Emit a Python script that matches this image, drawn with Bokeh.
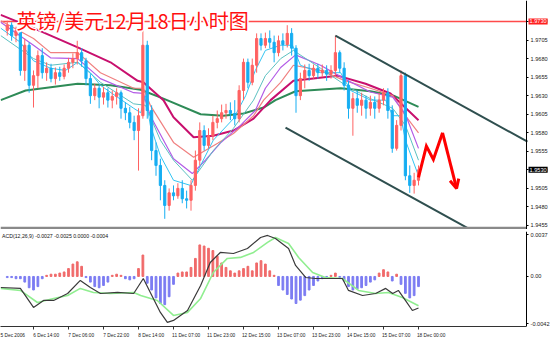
from bokeh.plotting import figure
from bokeh.layouts import column
from bokeh.models import (Range1d, FixedTicker, Label, Arrow, OpenHead, LinearAxis,
                          ColumnDataSource, NumeralTickFormatter)
from bokeh.embed import file_html
from bokeh.resources import INLINE

# ---------------- data (2-hour bars) ----------------
bar_index = list(range(95))
open_ = [1.9718, 1.9725, 1.9711, 1.9718, 1.9664, 1.9698, 1.9644, 1.9657, 1.9684, 1.9661,
         1.9667, 1.9653, 1.9661, 1.9656, 1.9667, 1.9675, 1.9680, 1.9688, 1.9677, 1.9653,
         1.9630, 1.9640, 1.9628, 1.9634, 1.9624, 1.9629, 1.9634, 1.9613, 1.9607, 1.9594,
         1.9583, 1.9603, 1.9698, 1.9610, 1.9556, 1.9536, 1.9509, 1.9482, 1.9499, 1.9495,
         1.9505, 1.9491, 1.9489, 1.9509, 1.9543, 1.9583, 1.9563, 1.9576, 1.9594, 1.9599,
         1.9607, 1.9610, 1.9606, 1.9599, 1.9637, 1.9675, 1.9648, 1.9671, 1.9707, 1.9698,
         1.9707, 1.9702, 1.9688, 1.9704, 1.9699, 1.9714, 1.9694, 1.9630, 1.9653, 1.9664,
         1.9657, 1.9667, 1.9661, 1.9664, 1.9659, 1.9664, 1.9688, 1.9667, 1.9644, 1.9613,
         1.9626, 1.9617, 1.9624, 1.9613, 1.9621, 1.9613, 1.9624, 1.9634, 1.9610, 1.9559,
         1.9590, 1.9657, 1.9522, 1.9509, 1.9516]
close = [1.9725, 1.9711, 1.9718, 1.9664, 1.9698, 1.9644, 1.9657, 1.9684, 1.9661, 1.9667,
         1.9653, 1.9661, 1.9656, 1.9667, 1.9675, 1.9680, 1.9688, 1.9677, 1.9653, 1.9630,
         1.9640, 1.9628, 1.9634, 1.9624, 1.9629, 1.9634, 1.9613, 1.9607, 1.9594, 1.9583,
         1.9603, 1.9698, 1.9610, 1.9556, 1.9536, 1.9509, 1.9482, 1.9499, 1.9495, 1.9505,
         1.9491, 1.9489, 1.9509, 1.9543, 1.9583, 1.9563, 1.9576, 1.9594, 1.9599, 1.9607,
         1.9610, 1.9606, 1.9599, 1.9637, 1.9675, 1.9648, 1.9671, 1.9707, 1.9698, 1.9707,
         1.9702, 1.9688, 1.9704, 1.9699, 1.9714, 1.9694, 1.9630, 1.9653, 1.9664, 1.9657,
         1.9667, 1.9661, 1.9664, 1.9659, 1.9664, 1.9688, 1.9667, 1.9644, 1.9613, 1.9626,
         1.9617, 1.9624, 1.9613, 1.9621, 1.9613, 1.9624, 1.9634, 1.9610, 1.9559, 1.9590,
         1.9657, 1.9522, 1.9509, 1.9516, 1.9530]
high = [1.9731, 1.9729, 1.9723, 1.9722, 1.9707, 1.9702, 1.9664, 1.9691, 1.9694, 1.9675,
        1.9673, 1.9668, 1.9669, 1.9672, 1.9681, 1.9687, 1.9704, 1.9694, 1.9681, 1.9659,
        1.9646, 1.9645, 1.9642, 1.9640, 1.9637, 1.9640, 1.9637, 1.9621, 1.9615, 1.9603,
        1.9613, 1.9735, 1.9704, 1.9617, 1.9567, 1.9545, 1.9516, 1.9505, 1.9509, 1.9512,
        1.9516, 1.9502, 1.9516, 1.9556, 1.9594, 1.9590, 1.9586, 1.9603, 1.9610, 1.9618,
        1.9619, 1.9621, 1.9624, 1.9644, 1.9680, 1.9680, 1.9680, 1.9714, 1.9714, 1.9715,
        1.9718, 1.9711, 1.9711, 1.9714, 1.9725, 1.9721, 1.9698, 1.9661, 1.9672, 1.9673,
        1.9672, 1.9673, 1.9672, 1.9671, 1.9671, 1.9711, 1.9691, 1.9675, 1.9650, 1.9634,
        1.9637, 1.9634, 1.9630, 1.9630, 1.9629, 1.9634, 1.9640, 1.9640, 1.9617, 1.9597,
        1.9664, 1.9661, 1.9536, 1.9526, 1.9536]
low = [1.9711, 1.9704, 1.9702, 1.9657, 1.9650, 1.9634, 1.9614, 1.9640, 1.9653, 1.9650,
       1.9648, 1.9645, 1.9650, 1.9652, 1.9661, 1.9667, 1.9672, 1.9669, 1.9644, 1.9619,
       1.9624, 1.9613, 1.9618, 1.9614, 1.9613, 1.9618, 1.9599, 1.9597, 1.9586, 1.9570,
       1.9529, 1.9599, 1.9599, 1.9543, 1.9522, 1.9489, 1.9464, 1.9475, 1.9489, 1.9491,
       1.9485, 1.9478, 1.9475, 1.9502, 1.9536, 1.9556, 1.9559, 1.9570, 1.9586, 1.9594,
       1.9599, 1.9597, 1.9590, 1.9594, 1.9624, 1.9640, 1.9644, 1.9661, 1.9691, 1.9694,
       1.9694, 1.9675, 1.9683, 1.9691, 1.9695, 1.9684, 1.9607, 1.9624, 1.9640, 1.9650,
       1.9653, 1.9653, 1.9655, 1.9650, 1.9653, 1.9657, 1.9661, 1.9637, 1.9599, 1.9576,
       1.9607, 1.9603, 1.9599, 1.9603, 1.9599, 1.9607, 1.9617, 1.9599, 1.9553, 1.9556,
       1.9583, 1.9516, 1.9499, 1.9498, 1.9509]

# moving averages (bar position, price)
cyan_x = [-1.5, 3, 6, 9.9, 13.3, 16.1, 19, 21.3, 24.7, 28.9, 30.5, 31.6, 32.7, 35, 38, 41.9, 44.2,
          47.1, 51.7, 54.5, 56.7, 59, 62.5, 65.2, 67, 71.6, 76.2, 78.5, 83, 86.5, 88.1, 89.9, 91, 94]
cyan_y = [1.9721, 1.9702, 1.9677, 1.9667, 1.9664, 1.9675, 1.9661, 1.9644, 1.9630, 1.9613, 1.9607,
          1.9630, 1.9590, 1.9549, 1.9516, 1.9509, 1.9536, 1.9570, 1.9599, 1.9630, 1.9664, 1.9691,
          1.9698, 1.9698, 1.9671, 1.9661, 1.9661, 1.9637, 1.9624, 1.9624, 1.9603, 1.9603, 1.9570, 1.9522]
teal_x = [-1.5, 6, 9.9, 16.1, 21.3, 28.9, 31.6, 35, 38, 42.3, 47.1, 51.7, 56.3, 59, 62.5, 65.4,
          71.6, 77.3, 83, 88.1, 91, 94]
teal_y = [1.9711, 1.9680, 1.9671, 1.9675, 1.9648, 1.9619, 1.9617, 1.9570, 1.9543, 1.9516, 1.9556,
          1.9586, 1.9624, 1.9657, 1.9680, 1.9691, 1.9667, 1.9644, 1.9626, 1.9613, 1.9590, 1.9543]
violet_x = [-1.5, 6, 9.9, 16.1, 21.3, 28.9, 31.1, 32.7, 38, 42.3, 45.3, 48.7, 53.3, 56.7, 59, 62.5,
            65.9, 71.6, 77.3, 83, 88.1, 91, 94]
violet_y = [1.9729, 1.9698, 1.9681, 1.9680, 1.9653, 1.9634, 1.9633, 1.9603, 1.9545, 1.9525, 1.9543,
            1.9566, 1.9590, 1.9610, 1.9640, 1.9668, 1.9685, 1.9671, 1.9652, 1.9635, 1.9628, 1.9605, 1.9559]
salmon_x = [-1.5, 6, 9.9, 16.1, 21.3, 28.9, 31.1, 32.7, 38, 42.6, 48.1, 51.7, 56.3, 58.6, 62.5, 65.4,
            71.6, 77.3, 83, 88.1, 91, 94]
salmon_y = [1.9731, 1.9707, 1.9688, 1.9688, 1.9661, 1.9640, 1.9640, 1.9617, 1.9567, 1.9547, 1.9566,
            1.9579, 1.9603, 1.9624, 1.9648, 1.9671, 1.9664, 1.9650, 1.9640, 1.9630, 1.9603, 1.9580]
crimson_x = [-1.5, 6, 16.1, 23.6, 29.8, 31.1, 35.7, 38, 42.6, 47.1, 51.7, 56.3, 60.2, 65.4, 75.5,
             81.9, 87.6, 94]
crimson_y = [1.9739, 1.9721, 1.9695, 1.9675, 1.9650, 1.9648, 1.9624, 1.9601, 1.9574, 1.9576, 1.9583,
             1.9599, 1.9624, 1.9650, 1.9657, 1.9646, 1.9633, 1.9597]
green_x = [-1.5, 4.2, 16.1, 23.6, 30.5, 35.7, 44.2, 49.4, 54, 58.6, 61.3, 65.9, 76.2, 83, 88.3, 94]
green_y = [1.9624, 1.9637, 1.9646, 1.9644, 1.9638, 1.9626, 1.9605, 1.9603, 1.9606, 1.9614, 1.9624,
           1.9636, 1.9640, 1.9636, 1.9630, 1.9615]

# trend channel and forecast arrow (bar position, price)
upper_x = [75.0, 118.9]
upper_y = [1.9711, 1.9568]
lower_x = [63.6, 106.0]
lower_y = [1.9587, 1.9449]
arrow_x = [94.0, 95.8, 97.4, 99.5, 102.7]
arrow_y = [1.9520, 1.9562, 1.9544, 1.9580, 1.9505]

price_ticks = [1.9455, 1.9480, 1.9505, 1.9530, 1.9555, 1.9580, 1.9605, 1.9630, 1.9655, 1.9680, 1.9705, 1.9730]
line_level = 1.9730
last_price = 1.9530

# MACD(12,26,9)
macd_hist = [-0.0001, -0.0001, -0.0002, -0.0002, -0.0005, -0.0010, -0.0012, -0.0009, -0.0002, 0.0001,
             0.0002, 0.0002, 0.0003, 0.0004, 0.0007, 0.0011, 0.0013, 0.0009, -0.0001, -0.0005,
             -0.0009, -0.0010, -0.0008, -0.0005, 0.0001, 0.0002, 0.0001, -0.0002, -0.0003, -0.0002,
             0.0007, 0.0019, -0.0006, -0.0012, -0.0019, -0.0024, -0.0025, -0.0018, -0.0007, 0.0003,
             0.0004, 0.0004, 0.0008, 0.0016, 0.0028, 0.0027, 0.0025, 0.0023, 0.0018, 0.0012,
             0.0008, 0.0005, 0.0003, 0.0005, 0.0007, 0.0009, 0.0005, 0.0012, 0.0014, 0.0011,
             0.0005, 0.0001, -0.0008, -0.0012, -0.0016, -0.0020, -0.0024, -0.0021, -0.0017, -0.0012,
             -0.0008, -0.0004, -0.0002, -0.0001, 0.0001, 0.0003, -0.0001, -0.0004, -0.0009, -0.0012,
             -0.0011, -0.0010, -0.0008, -0.0005, -0.0003, 0.0003, 0.0006, 0.0004, -0.0004, 0.0002,
             -0.0007, -0.0015, -0.0019, -0.0017, -0.0009]
macd_x = [-1.5, 3, 6, 8.3, 10.6, 13.8, 16.7, 19, 21.3, 25.2, 28.9, 31.1, 32.7, 35, 36.6, 38, 41.2, 44.2,
          46.4, 48.7, 51.7, 54.9, 57.9, 59.5, 61.3, 64.3, 65.9, 68.2, 70.5, 74.3, 76.6, 78, 81.2, 84.2,
          86.5, 88.1, 89.4, 91, 92.6, 94]
macd_y = [-0.00098, -0.00106, -0.00275, -0.00213, -0.00213, -0.00151, -0.00035, -0.00098, -0.00151,
          -0.00142, -0.00151, -0.00018, -0.00142, -0.00319, -0.00408, -0.0039, -0.00302, -0.0008,
          0.00124, 0.00213, 0.00204, 0.00248, 0.00346, 0.00364, 0.00337, 0.00248, 0.00098, -0.00009,
          -0.00018, -0.00018, -0.00018, -0.00124, -0.00169, -0.00151, -0.00106, -0.00151, -0.00124,
          -0.00213, -0.00302, -0.0028]
signal_x = [-1.5, 3, 6.9, 10.6, 13.8, 16.7, 19.7, 23.6, 28.9, 30.5, 34.3, 38, 41.2, 44.2, 47.1, 50.3,
            53.3, 56.3, 59.5, 61.3, 64.3, 66.6, 69.8, 72.7, 76.6, 80.3, 84.2, 87.1, 90.3, 94]
signal_y = [-0.00106, -0.00124, -0.00231, -0.00195, -0.00169, -0.00106, -0.00142, -0.00151, -0.00142,
            -0.00169, -0.00213, -0.00346, -0.00319, -0.00195, 0.00035, 0.0016, 0.00169, 0.00213, 0.00302,
            0.00346, 0.00293, 0.00169, 0.00035, -0.00009, -0.00018, -0.00124, -0.00151, -0.00142,
            -0.00186, -0.0026]
macd_ticks = [-0.0042, 0.0, 0.0037]
macd_tick_labels = ["-0.0042", "0.00", "0.0037"]

time_ticks = [-2.6, 6, 14, 22, 30, 38, 46, 54, 62, 70, 78, 86, 94]
time_labels = ["5 Dec 2006", "6 Dec 14:00", "7 Dec 06:00", "7 Dec 22:00", "8 Dec 14:00", "11 Dec 07:00",
               "11 Dec 23:00", "12 Dec 15:00", "13 Dec 07:00", "13 Dec 23:00", "14 Dec 15:00",
               "15 Dec 07:00", "18 Dec 00:00"]

title_text = "英镑/美元12月18日小时图"
macd_title = "ACD(12,26,9) -0.0027 -0.0025 0.0000 -0.0004"

# ---------------- styling ----------------
UP = "#FF6262"
DOWN = "#16AEF2"
AX_FONT = "Liberation Sans"
X_LO, X_HI = -1.543, 124.17      # frame spans the whole 550 px
AXIS_AT = 118.7                   # price scale line (x = 526 px)
LABEL_SHIFT = 2.9                 # time labels start at their tick

src = ColumnDataSource(dict(
    x=bar_index, o=open_, h=high, l=low, c=close,
    top=[max(a, b) for a, b in zip(open_, close)],
    bot=[min(a, b) for a, b in zip(open_, close)],
    col=[UP if c >= o else DOWN for o, c in zip(open_, close)],
))

p1 = figure(width=550, height=229, x_range=Range1d(X_LO, X_HI), y_range=Range1d(1.94496, 1.97583),
            output_backend="svg", toolbar_location=None, x_axis_location=None,
            y_axis_location=None, min_border_left=0, min_border_right=0,
            min_border_top=0, min_border_bottom=0, outline_line_color=None,
            background_fill_color="white", border_fill_color="white")
p1.grid.visible = False

# red level line
p1.line([X_LO, AXIS_AT], [line_level, line_level], line_color="#FF4A4A", line_width=1.3)

# moving averages
p1.line(green_x, green_y, line_color="#2E8B57", line_width=2)
p1.line(crimson_x, crimson_y, line_color="#C8106E", line_width=2)
p1.line(salmon_x, salmon_y, line_color="#F08080", line_width=1.2)
p1.line(violet_x, violet_y, line_color="#B35CE6", line_width=1.2)
p1.line(teal_x, teal_y, line_color="#5CC0C0", line_width=1)
p1.line(cyan_x, cyan_y, line_color="#33C4F2", line_width=1)

# candles
p1.segment(x0="x", y0="l", x1="x", y1="h", line_color="col", line_width=1, source=src)
p1.vbar(x="x", width=0.5, top="top", bottom="bot", fill_color="col", line_color="col", source=src)

# channel
p1.line(upper_x, upper_y, line_color="#2F4F4F", line_width=2)
p1.line(lower_x, lower_y, line_color="#2F4F4F", line_width=2)

# forecast arrow
p1.line(arrow_x[:4], arrow_y[:4], line_color="#FF0000", line_width=3, line_join="miter")
p1.add_layout(Arrow(x_start=arrow_x[3], y_start=arrow_y[3], x_end=arrow_x[4], y_end=arrow_y[4],
                    line_color="#FF0000", line_width=3,
                    end=OpenHead(size=9, line_color="#FF0000", line_width=3)))

# separator between panels
sep = 1.94496 + 0.00017
p1.line([X_LO, AXIS_AT], [sep, sep], line_color="#8A8A8A", line_width=3)

# title with white halo
for dx, dy in [(-1.5, 0), (1.5, 0), (0, -1.5), (0, 1.5), (-1, -1), (1, 1), (-1, 1), (1, -1)]:
    p1.add_layout(Label(x=2.1, y=1.9731, text=title_text, x_offset=dx, y_offset=dy,
                        text_font="Noto Sans CJK SC", text_font_size="20px",
                        text_color="white", text_baseline="middle"))
p1.add_layout(Label(x=2.1, y=1.9731, text=title_text, text_font="Noto Sans CJK SC",
                    text_font_size="20px", text_color="#FF1010", text_baseline="middle"))

ax = LinearAxis(fixed_location=AXIS_AT, ticker=FixedTicker(ticks=price_ticks),
                formatter=NumeralTickFormatter(format="0.0000"))
ax.major_label_text_font = AX_FONT
ax.major_label_text_font_size = "5.6px"
ax.major_label_text_color = "#222222"
ax.major_label_standoff = 2
ax.major_tick_out = 2
ax.major_tick_in = 0
ax.minor_tick_out = 0
ax.minor_tick_in = 0
ax.axis_line_color = "black"
ax.major_tick_line_color = "black"
p1.add_layout(ax, "right")

p1.add_layout(Label(x=119.15, y=line_level, text="1.9730", text_font=AX_FONT, text_font_size="5.6px",
                    text_color="white", background_fill_color="#FF2020", text_baseline="middle",
                    padding=1))
p1.add_layout(Label(x=119.15, y=last_price, text="1.9530", text_font=AX_FONT, text_font_size="5.6px",
                    text_color="white", background_fill_color="black", text_baseline="middle",
                    padding=1))

# ---------------- MACD panel ----------------
p2 = figure(width=550, height=111, x_range=p1.x_range, y_range=Range1d(-0.00444, 0.00399),
            output_backend="svg", toolbar_location=None, y_axis_location=None,
            min_border_left=0, min_border_right=0, min_border_top=2, min_border_bottom=14,
            outline_line_color=None, background_fill_color="white", border_fill_color="white")
p2.grid.visible = False

hist_src = ColumnDataSource(dict(x=bar_index, v=macd_hist,
                                 col=["#F06A6A" if v > 0 else "#7C7CF2" for v in macd_hist]))
p2.vbar(x="x", width=0.4, top="v", bottom=0, fill_color="col", line_color="col", source=hist_src)
p2.line(signal_x, signal_y, line_color="#90EE90", line_width=1.6)
p2.line(macd_x, macd_y, line_color="#3A3A3A", line_width=1.2)

p2.add_layout(Label(x=-1.2, y=0.00355, text=macd_title, text_font=AX_FONT, text_font_size="5.2px",
                    text_color="#111111", text_baseline="middle"))

ay = LinearAxis(fixed_location=AXIS_AT, ticker=FixedTicker(ticks=macd_ticks))
ay.major_label_overrides = dict(zip(macd_ticks, macd_tick_labels))
ay.major_label_text_font = AX_FONT
ay.major_label_text_font_size = "5.6px"
ay.major_label_text_color = "#222222"
ay.major_label_standoff = 2
ay.major_tick_out = 2
ay.major_tick_in = 0
ay.minor_tick_out = 0
ay.minor_tick_in = 0
ay.axis_line_color = "black"
p2.add_layout(ay, "right")

label_pos = [t + LABEL_SHIFT for t in time_ticks]
axx = p2.xaxis[0]
axx.ticker = FixedTicker(ticks=label_pos, minor_ticks=time_ticks)
axx.major_label_overrides = dict(zip(label_pos, time_labels))
axx.major_label_text_font = AX_FONT
axx.major_label_text_font_size = "4.8px"
axx.major_label_text_color = "#222222"
axx.major_label_standoff = 3
axx.major_tick_out = 0
axx.major_tick_in = 0
axx.minor_tick_out = 3
axx.minor_tick_in = 0
axx.minor_tick_line_color = "#333333"
axx.axis_line_color = "#333333"
axx.bounds = (X_LO, AXIS_AT)

layout = column(p1, p2, spacing=0)
open("out.html", "w").write(file_html(layout, INLINE))
